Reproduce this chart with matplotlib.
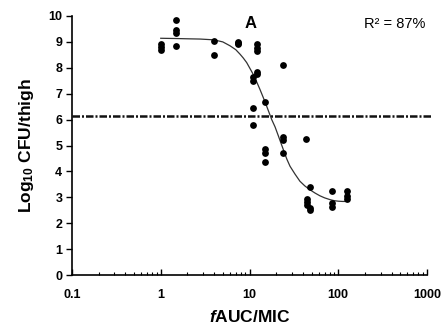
import matplotlib
matplotlib.use("Agg")
import matplotlib.pyplot as plt
import numpy as np

plt.rcParams['font.family'] = ['Liberation Sans', 'DejaVu Sans']
plt.rcParams['mathtext.fontset'] = 'custom'
plt.rcParams['mathtext.rm'] = 'Liberation Sans:bold'
plt.rcParams['mathtext.it'] = 'Liberation Sans:bold:italic'
plt.rcParams['mathtext.bf'] = 'Liberation Sans:bold'

# Observed data: fAUC/MIC and log10 CFU/thigh
dose_x = [1.0, 1.0, 1.0,
          1.47, 1.47, 1.47, 1.47,
          3.95, 3.95,
          7.5, 7.5, 7.5,
          12, 12, 12, 12, 12,
          11, 11, 11, 11,
          15, 15, 15, 15,
          24, 24, 24, 24,
          43,
          45, 45, 45,
          48, 48, 48,
          84, 84, 84,
          124, 124, 124]
cfu_y = [8.9, 8.8, 8.7,
         9.85, 9.45, 9.35, 8.85,
         9.05, 8.5,
         9.0, 8.95, 8.9,
         8.9, 8.78, 8.65, 7.82, 7.75,
         7.66, 7.49, 6.43, 5.79,
         6.69, 4.87, 4.72, 4.37,
         8.1, 5.32, 5.21, 4.72,
         5.27,
         2.95, 2.8, 2.7,
         3.4, 2.6, 2.5,
         3.23, 2.77, 2.63,
         3.23, 3.04, 2.93]

# Fitted curve
curve_x = [1.0, 1.5, 2.0, 2.77, 3.95, 5.0, 6.03, 7.0, 7.8, 8.5, 9.3, 10.1, 11.0, 12.0,
           13.1, 14.3, 15.6, 17.8, 19.4, 21.1, 24.0, 26.3, 28.6, 32.5, 37.0, 42.0,
           48.0, 55.0, 62.0, 70.0, 80.7, 90.0, 100.0, 112.0, 124.0]
curve_y = [9.14, 9.13, 9.12, 9.11, 9.08, 9.0, 8.85, 8.7, 8.53, 8.38, 8.2, 7.98, 7.75, 7.47,
           7.17, 6.85, 6.52, 6.0, 5.72, 5.38, 4.85, 4.48, 4.2, 3.9, 3.62, 3.44,
           3.29, 3.16, 3.06, 2.98, 2.91, 2.87, 2.85, 2.84, 2.84]

stasis_y = 6.12
xticks = [0.1, 1, 10, 100, 1000]
xtick_labels = ['0.1', '1', '10', '100', '1000']
yticks = list(range(0, 11))

fig = plt.figure(figsize=(4.43, 3.31), dpi=100)
ax = fig.add_axes([72/443, 1-275/331, (427-72)/443, (275-16)/331])

ax.set_xscale('log')
ax.set_xlim(0.1, 1000)
ax.set_ylim(0, 10)

ax.axhline(stasis_y, xmax=1.013, color='#111111', lw=1.8,
           linestyle=(0, (3, 0.8, 0.8, 0.8)), clip_on=False)
ax.plot(curve_x, curve_y, color='#333333', lw=0.9)
ax.scatter(dose_x, cfu_y, s=24, color='black', zorder=3, linewidths=0)

for s in ['top', 'right']:
    ax.spines[s].set_visible(False)
for s in ['left', 'bottom']:
    ax.spines[s].set_linewidth(1.2)

ax.set_xticks(xticks)
ax.set_xticklabels(xtick_labels)
ax.set_yticks(yticks)
ax.tick_params(axis='x', which='major', direction='in', length=4, width=1, labelsize=9, pad=10)
ax.tick_params(axis='x', which='minor', direction='in', length=2, width=0.8)
ax.tick_params(axis='y', which='major', direction='out', length=4, width=1, labelsize=9, pad=3)
for lbl in ax.get_xticklabels() + ax.get_yticklabels():
    lbl.set_fontweight('bold')

ax.set_ylabel(r'Log$_{10}$ CFU/thigh', fontsize=12.5, fontweight='bold', labelpad=9)
ax.set_xlabel(r'$\mathit{f}$AUC/MIC', fontsize=12.5, fontweight='bold', labelpad=6)

ax.text(0.502, 0.972, 'A', transform=ax.transAxes, ha='center', va='center',
        fontsize=12, fontweight='bold')
ax.text(0.995, 0.969, 'R\u00b2 = 87%', transform=ax.transAxes, ha='right', va='center',
        fontsize=10.5)

fig.savefig('out.png', dpi=100)
